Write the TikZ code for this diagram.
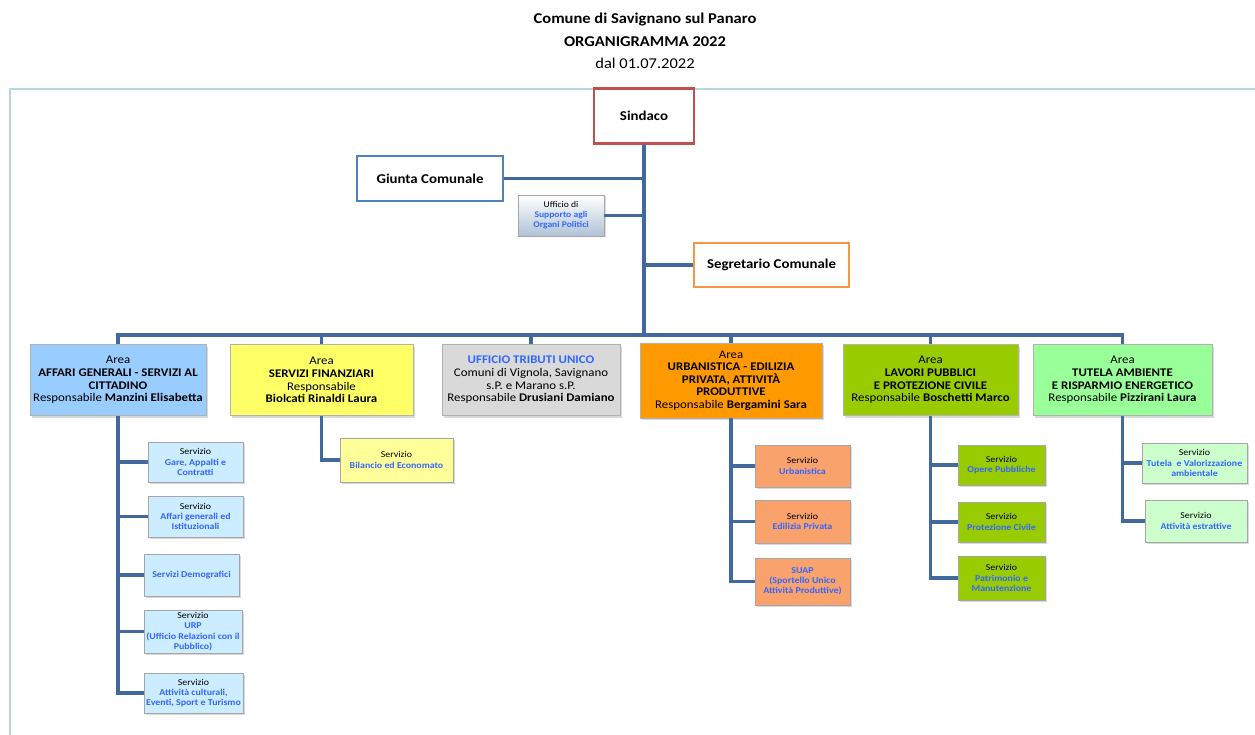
\documentclass[tikz,border=0pt]{standalone}
\usepackage{fontspec}
\setmainfont{Carlito}[FakeStretch=1.1]
\usepackage{xcolor}
\usetikzlibrary{positioning,calc,shadows}

\definecolor{linkblue}{HTML}{41699E}
\definecolor{tblue}{HTML}{3366FF}
\definecolor{framecol}{HTML}{B9D5DE}
\definecolor{sindred}{HTML}{C0504D}
\definecolor{giuntablue}{HTML}{4F81BD}
\definecolor{segrorange}{HTML}{F79646}
\definecolor{uffgray}{HTML}{AFC3D6}
\definecolor{areaA}{HTML}{99CCFF}
\definecolor{areaB}{HTML}{FFFF66}
\definecolor{areaC}{HTML}{D9D9D9}
\definecolor{areaD}{HTML}{FF9900}
\definecolor{areaE}{HTML}{99CC00}
\definecolor{areaF}{HTML}{99FF99}
\definecolor{subA}{HTML}{CCECFF}
\definecolor{subB}{HTML}{FFFF99}
\definecolor{subD}{HTML}{F9A26C}
\definecolor{subE}{HTML}{99CC00}
\definecolor{subF}{HTML}{CCFFCC}

\newcommand{\srv}[1]{{\color{tblue}\bfseries #1}}

\tikzset{
    conn/.style={draw=linkblue, line width=3.4pt},
    topbox/.style={draw, line width=2.5pt, fill=white, align=center, inner sep=0pt,
        font=\fontsize{13.5}{16}\selectfont\bfseries},
    areabox/.style={draw=gray!60, line width=0.6pt, align=center, inner sep=1pt,
        minimum height=71pt, font=\fontsize{11.7}{12.6}\selectfont,
        drop shadow={opacity=0.3, shadow xshift=2pt, shadow yshift=-2pt}},
    servbox/.style={draw=gray!70, line width=0.6pt, align=center, inner sep=1pt,
        font=\fontsize{9}{10.2}\selectfont,
        drop shadow={opacity=0.3, shadow xshift=1.5pt, shadow yshift=-1.5pt}}
}

\begin{document}
\begin{tikzpicture}[x=1pt, y=-1pt]
    \useasboundingbox (0,0) rectangle (1255,735);

    % Title and frame
    \node[align=center, font=\fontsize{15}{22.5}\selectfont] (title) at (645,41)
        {{\bfseries Comune di Savignano sul Panaro}\\ {\bfseries ORGANIGRAMMA 2022}\\ dal 01.07.2022};
    \draw[framecol, line width=1.5pt] (10,760) -- (10,89) -- (1270,89);

    % Top level
    \node[topbox, draw=sindred, minimum width=100pt, minimum height=55pt] (sindaco) at (644,116) {Sindaco};
    \node[topbox, draw=giuntablue, minimum width=146pt, minimum height=45pt] (giunta) at (430,178.5) {Giunta Comunale};
    \node[draw=gray!70, line width=0.6pt, top color=white, bottom color=uffgray, align=center, inner sep=1pt,
        minimum width=86pt, minimum height=41pt, font=\fontsize{8.7}{10}\selectfont,
        drop shadow={opacity=0.3, shadow xshift=1.5pt, shadow yshift=-1.5pt}] (ufficio) at (561,215.5)
        {Ufficio di\\ \srv{Supporto agli}\\ \srv{Organi Politici}};
    \node[topbox, draw=segrorange, minimum width=155pt, minimum height=44pt] (segretario) at (771.5,265) {Segretario Comunale};
    \coordinate (bus) at (644,335);

    % Areas
    \node[areabox, fill=areaA, minimum width=176pt] (affari) at (118,380)
        {Area\\ \textbf{AFFARI GENERALI - SERVIZI AL}\\ \textbf{CITTADINO}\\ Responsabile \textbf{Manzini Elisabetta}};
    \node[areabox, fill=areaB, minimum width=183pt] (finanze) at (321.5,380)
        {Area\\ \textbf{SERVIZI FINANZIARI}\\ Responsabile\\ \textbf{Biolcati Rinaldi Laura}};
    \node[areabox, fill=areaC, minimum width=178pt] (tributi) at (531,380)
        {{\color{tblue}\bfseries UFFICIO TRIBUTI UNICO}\\ Comuni di Vignola, Savignano\\ s.P. e Marano s.P.\\ Responsabile \textbf{Drusiani Damiano}};
    \node[areabox, fill=areaD, minimum width=182pt, minimum height=75pt] (urbanistica) at (731,380.5)
        {Area\\ \textbf{URBANISTICA - EDILIZIA}\\ \textbf{PRIVATA, ATTIVITÀ}\\ \textbf{PRODUTTIVE}\\ Responsabile \textbf{Bergamini Sara}};
    \node[areabox, fill=areaE, minimum width=175pt] (lavori) at (930.5,380)
        {Area\\ \textbf{LAVORI PUBBLICI}\\ \textbf{E PROTEZIONE CIVILE}\\ Responsabile \textbf{Boschetti Marco}};
    \node[areabox, fill=areaF, minimum width=179pt] (ambiente) at (1122.5,380)
        {Area\\ \textbf{TUTELA AMBIENTE}\\ \textbf{E RISPARMIO ENERGETICO}\\ Responsabile \textbf{Pizzirani Laura}};

    % Servizi - Affari generali
    \node[servbox, fill=subA, minimum width=95pt, minimum height=40pt] (gare) at (195.5,462)
        {Servizio\\ \srv{Gare, Appalti e}\\ \srv{Contratti}};
    \node[servbox, fill=subA, minimum width=95pt, minimum height=41pt] (istituz) at (195.5,516.5)
        {Servizio\\ \srv{Affari generali ed}\\ \srv{Istituzionali}};
    \node[servbox, fill=subA, minimum width=95pt, minimum height=42pt] (demografici) at (191.5,575)
        {\srv{Servizi Demografici}};
    \node[servbox, fill=subA, minimum width=98pt, minimum height=43pt] (urp) at (193,631.5)
        {Servizio\\ \srv{URP}\\ \srv{(Ufficio Relazioni con il}\\ \srv{Pubblico)}};
    \node[servbox, fill=subA, minimum width=99pt, minimum height=40pt] (cultura) at (193.5,693)
        {Servizio\\ \srv{Attività culturali,}\\ \srv{Eventi, Sport e Turismo}};

    % Servizi - Finanziari
    \node[servbox, fill=subB, minimum width=113pt, minimum height=44pt] (bilancio) at (396.5,460)
        {Servizio\\ \srv{Bilancio ed Economato}};

    % Servizi - Urbanistica
    \node[servbox, fill=subD, minimum width=95pt, minimum height=42pt] (urbserv) at (802.5,466)
        {Servizio\\ \srv{Urbanistica}};
    \node[servbox, fill=subD, minimum width=95pt, minimum height=43pt] (edilizia) at (802.5,521.5)
        {Servizio\\ \srv{Edilizia Privata}};
    \node[servbox, fill=subD, minimum width=95pt, minimum height=47pt] (suap) at (802.5,581.5)
        {\srv{SUAP}\\ \srv{(Sportello Unico}\\ \srv{Attività Produttive)}};

    % Servizi - Lavori pubblici
    \node[servbox, fill=subE, minimum width=87pt, minimum height=40pt] (opere) at (1001.5,465)
        {Servizio\\ \srv{Opere Pubbliche}};
    \node[servbox, fill=subE, minimum width=87pt, minimum height=40pt] (protezione) at (1001.5,522)
        {Servizio\\ \srv{Protezione Civile}};
    \node[servbox, fill=subE, minimum width=87pt, minimum height=44pt] (patrimonio) at (1001.5,578)
        {Servizio\\ \srv{Patrimonio e}\\ \srv{Manutenzione}};

    % Servizi - Ambiente
    \node[servbox, fill=subF, minimum width=105pt, minimum height=40pt] (tutela) at (1194.5,463)
        {Servizio\\ \srv{Tutela\ \ e Valorizzazione}\\ \srv{ambientale}};
    \node[servbox, fill=subF, minimum width=102pt, minimum height=42pt] (estrattive) at (1196,521)
        {Servizio\\ \srv{Attività estrattive}};

    % Connectors
    \draw[conn] (sindaco.south) -- (bus);
    \draw[conn] (giunta.east) -- (giunta.east -| sindaco.south);
    \draw[conn] (ufficio.east) -- (ufficio.east -| sindaco.south);
    \draw[conn] (segretario.west) -- (segretario.west -| sindaco.south);
    \draw[conn] (affari.north) -- (affari.north |- bus) -- (ambiente.north |- bus) -- (ambiente.north);
    \foreach \a in {finanze,tributi,urbanistica,lavori}
        \draw[conn] (\a.north) -- (\a.north |- bus);

    \draw[conn] (affari.south) |- (cultura.west);
    \foreach \s in {gare,istituz,demografici,urp}
        \draw[conn] (affari.south |- \s.west) -- (\s.west);
    \draw[conn] (finanze.south) |- (bilancio.west);
    \draw[conn] (urbanistica.south) |- (suap.west);
    \foreach \s in {urbserv,edilizia}
        \draw[conn] (urbanistica.south |- \s.west) -- (\s.west);
    \draw[conn] (lavori.south) |- (patrimonio.west);
    \foreach \s in {opere,protezione}
        \draw[conn] (lavori.south |- \s.west) -- (\s.west);
    \draw[conn] (ambiente.south) |- (estrattive.west);
    \draw[conn] (ambiente.south |- tutela.west) -- (tutela.west);
\end{tikzpicture}
\end{document}
